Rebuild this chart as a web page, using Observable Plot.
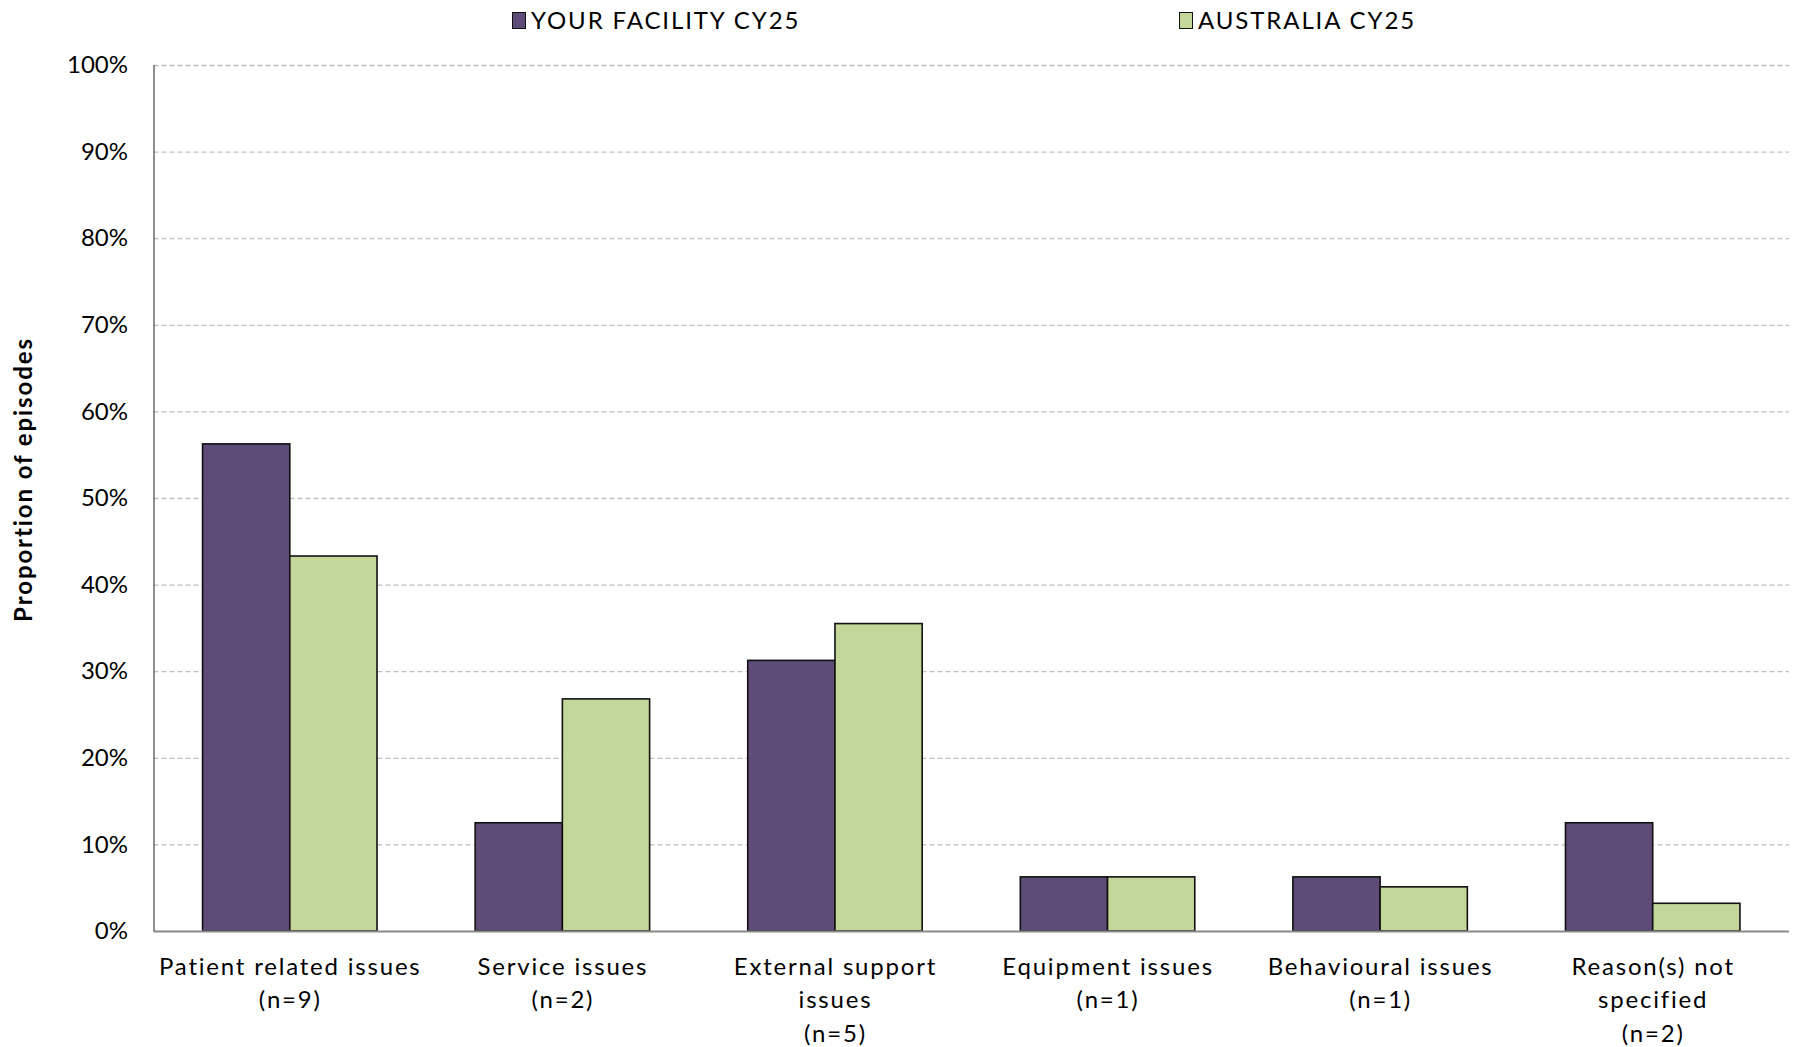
<!DOCTYPE html>
<html>
<head>
<meta charset="utf-8">
<script src="https://cdn.jsdelivr.net/npm/d3@7"></script>
<script src="https://cdn.jsdelivr.net/npm/@observablehq/plot@0.6"></script>
<style>
  html, body { margin: 0; padding: 0; background: #fff; }
  body { width: 1796px; height: 1047px; overflow: hidden; font-family: Lato, "Open Sans", sans-serif; }
  #legend { position: relative; height: 40px; width: 1796px; }
  .item { position: absolute; top: 7px; display: flex; align-items: center; font-size: 24px; color: #000; line-height: 26px; letter-spacing: 1.9px; }
  .sw { width: 12px; height: 15px; border: 1.5px solid #111; margin-right: 5px; box-sizing: content-box; }
  g[aria-label="x-axis tick label"] text { letter-spacing: 1.8px; }
  g[aria-label="y-axis label"] text { letter-spacing: 1.9px; font-weight: bold; }
</style>
</head>
<body>
<div id="legend"></div>
<div id="chart"></div>
<script>
const categories = ["Patient related issues", "Service issues", "External support issues", "Equipment issues", "Behavioural issues", "Reason(s) not specified"];
const categoryLabels = ["Patient related issues\n(n=9)", "Service issues\n(n=2)", "External support\nissues\n(n=5)", "Equipment issues\n(n=1)", "Behavioural issues\n(n=1)", "Reason(s) not\nspecified\n(n=2)"];
const seriesNames = ["YOUR FACILITY CY25", "AUSTRALIA CY25"];
const facilityValues = [56.25, 12.5, 31.25, 6.25, 6.25, 12.5];
const australiaValues = [43.3, 26.8, 35.5, 6.25, 5.1, 3.2];
const yTicks = [0, 10, 20, 30, 40, 50, 60, 70, 80, 90, 100];
const seriesColors = ["#5f4b78", "#c4d79b"];

// bar width as a fraction of the category step
const barFrac = 0.32;

const data = [];
categories.forEach((c, i) => {
  data.push({idx: i, s: 0, category: c, series: seriesNames[0], value: facilityValues[i]});
  data.push({idx: i, s: 1, category: c, series: seriesNames[1], value: australiaValues[i]});
});
const catIdx = categories.map((c, i) => i);

// legend
const legendPos = [512, 1179];
const legend = document.getElementById("legend");
seriesNames.forEach((s, i) => {
  const it = document.createElement("div");
  it.className = "item";
  it.style.left = legendPos[i] + "px";
  const sw = document.createElement("span");
  sw.className = "sw";
  sw.style.background = seriesColors[i];
  const t = document.createElement("span");
  t.textContent = s;
  it.appendChild(sw); it.appendChild(t);
  legend.appendChild(it);
});

const chart = Plot.plot({
  width: 1796,
  height: 1007,
  marginLeft: 153.5,
  marginRight: 7,
  marginTop: 25,
  marginBottom: 116,
  style: {fontFamily: "Lato, 'Open Sans', sans-serif", fontSize: "24px", color: "#000", background: "#fff"},
  x: {domain: [-0.5, categories.length - 0.5], label: null},
  y: {domain: [0, 100], label: null},
  color: {domain: seriesNames, range: seriesColors},
  marks: [
    Plot.ruleY(yTicks.filter(d => d > 0), {stroke: "#c0c0c0", strokeWidth: 1.3, strokeDasharray: "5,3"}),
    Plot.rectY(data, {
      x1: d => d.idx + (d.s - 1) * barFrac,
      x2: d => d.idx + d.s * barFrac,
      y1: 0, y2: "value",
      fill: "series", stroke: "#111", strokeWidth: 1.6
    }),
    Plot.ruleY([0], {stroke: "#898989", strokeWidth: 2}),
    Plot.ruleX([-0.5], {stroke: "#555", strokeWidth: 1.3}),
    Plot.axisY({ticks: yTicks, tickSize: 0, tickPadding: 26, tickFormat: d => d + "%", fontSize: 24,
      label: "Proportion of episodes", labelAnchor: "center", labelArrow: "none", labelOffset: 139}),
    Plot.axisX({ticks: catIdx, tickSize: 0, tickPadding: 19.5, tickFormat: i => categoryLabels[i], fontSize: 24, lineHeight: 1.4, label: null})
  ]
});
document.getElementById("chart").appendChild(chart);
// nudge the rotated y title up a little (x is along the rotated text direction)
chart.querySelectorAll("g[aria-label='y-axis label'] text").forEach(t => t.setAttribute("x", "19"));
</script>
</body>
</html>
